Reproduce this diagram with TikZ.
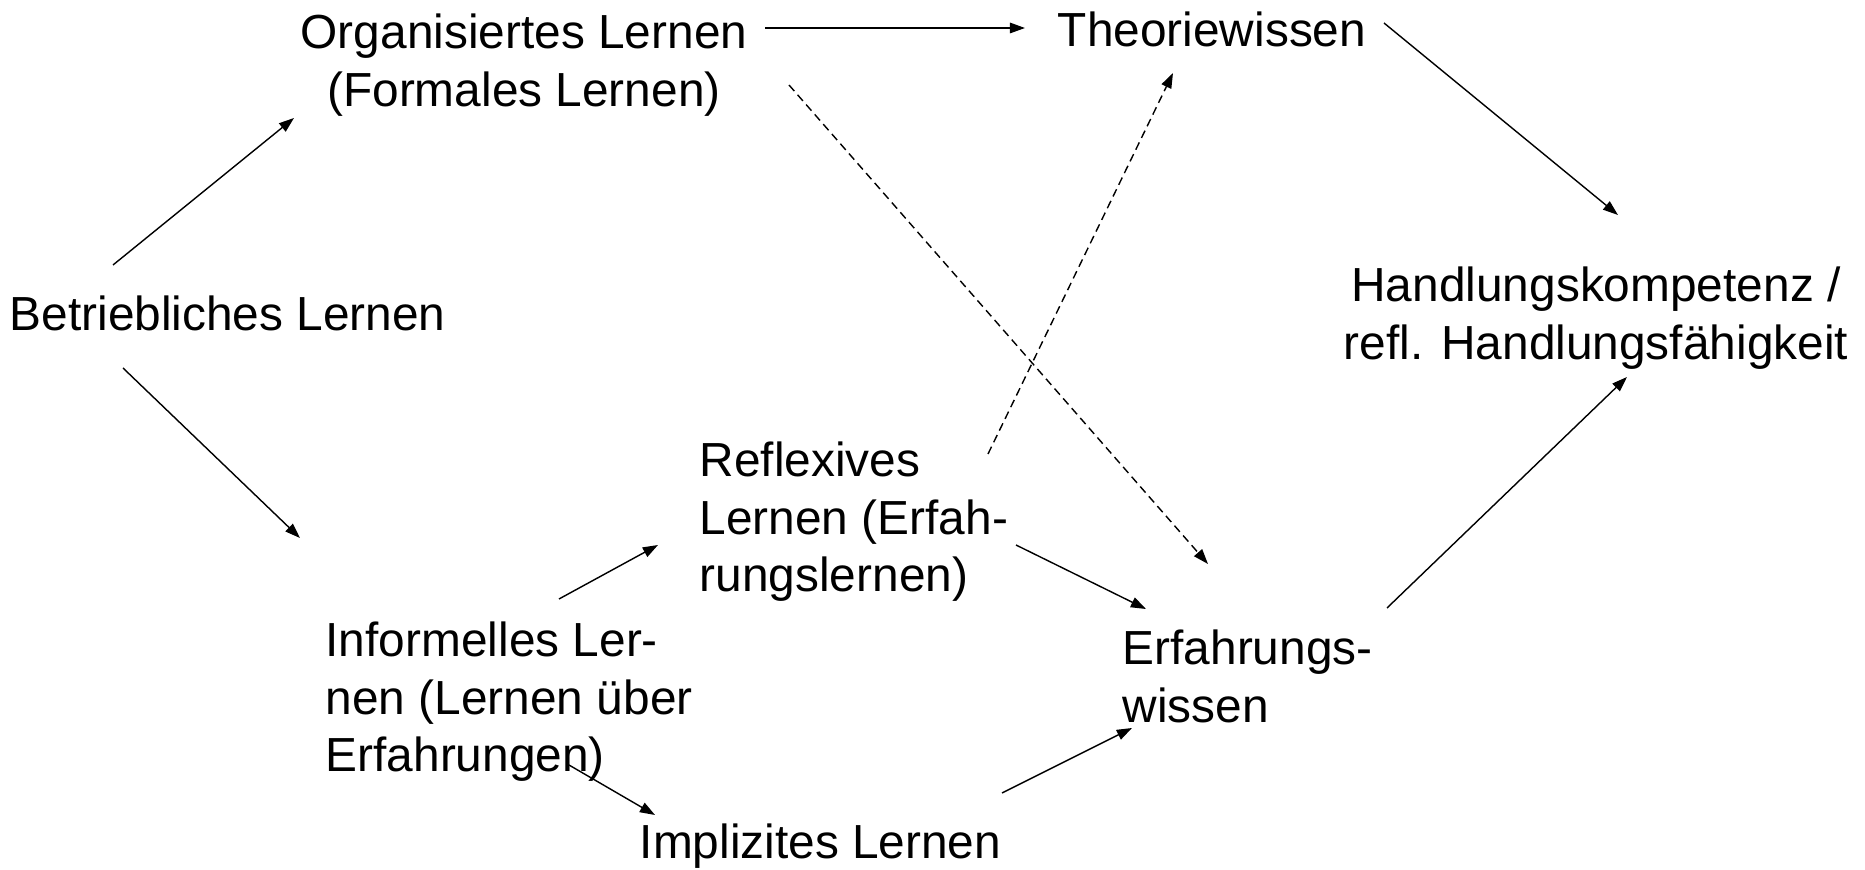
\documentclass[tikz,border=0pt]{standalone}
\usepackage{fontspec}
\setmainfont{Liberation Sans}
\usetikzlibrary{arrows.meta}

\begin{document}
\begin{tikzpicture}[x=0.01cm,y=-0.01cm,>={Triangle[length=4.3pt,width=3pt]},thin,
        every node/.style={inner sep=0pt,font=\fontsize{13.6}{16.4}\selectfont},
        dashlink/.style={dash pattern=on 2.3pt off 1.4pt}]
    \useasboundingbox (0,0) rectangle (1865,870);
                \node[anchor=base west]              (betr) at (9,331)    {Betriebliches Lernen};
                \node[anchor=north, align=center]     (org)  at (524,13)   {Organisiertes Lernen\\(Formales Lernen)};
                \node[anchor=base]                   (theo) at (1212,47)  {Theoriewissen};
                \node[anchor=north, align=center]     (hand) at (1596,266) {Handlungskompetenz /\\refl. Handlungsfähigkeit};
                \node[anchor=north west, align=left]  (refl) at (699,441)  {Reflexives\\Lernen (Erfah-\\rungslernen)};
                \node[anchor=north west, align=left]  (info) at (325,621)  {Informelles Ler-\\nen (Lernen über\\Erfahrungen)};
                \node[anchor=base west]              (impl) at (639,858)  {Implizites Lernen};
                \node[anchor=north west, align=left]  (erfw) at (1122,629) {Erfahrungs-\\wissen};

                    \path[->]
                             ([shift={(104,-66)}]betr.base west) edge ([shift={(-230,105)}]org.north)
                             ([shift={(114,37)}]betr.base west)  edge ([shift={(-25,-83)}]info.north west)
                             ([shift={(241,15)}]org.north)       edge ([shift={(-187,-19)}]theo.base)
                             ([shift={(172,-24)}]theo.base)      edge ([shift={(22,-51)}]hand.north)
                             ([shift={(265,-21)}]erfw.north west) edge ([shift={(31,111)}]hand.north)
                             ([shift={(234,-22)}]info.north west) edge ([shift={(-41,104)}]refl.north west)
                             ([shift={(317,104)}]refl.north west) edge ([shift={(24,-20)}]erfw.north west)
                             ([shift={(244,144)}]info.north west) edge ([shift={(16,-43)}]impl.base west)
                             ([shift={(363,-65)}]impl.base west)  edge ([shift={(10,99)}]erfw.north west);
                    \path[->, dashlink]
                             ([shift={(265,72)}]org.north)       edge ([shift={(86,-65)}]erfw.north west)
                             ([shift={(289,13)}]refl.north west) edge ([shift={(-39,26)}]theo.base);
\end{tikzpicture}
\end{document}
